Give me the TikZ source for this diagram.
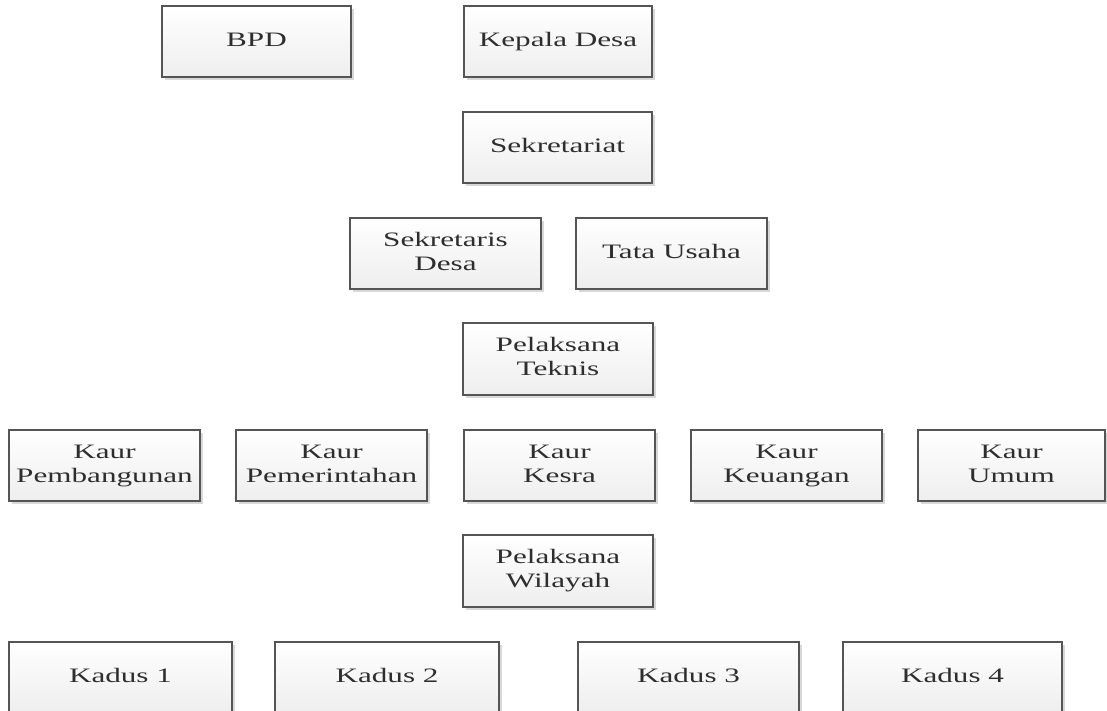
\documentclass[tikz,border=0pt]{standalone}
\usepackage{fontspec}
\newfontfamily\garfont[FakeStretch=1.52]{Liberation Serif}
\usetikzlibrary{shadows}
\definecolor{boxline}{HTML}{555555}
\definecolor{boxtext}{HTML}{2E2E2E}
\definecolor{boxbot}{HTML}{EEEEEE}
\definecolor{shadowc}{HTML}{D8D8D8}
\tikzset{
  orgbox/.style={rectangle, draw=boxline, line width=1.4pt, top color=white, bottom color=boxbot,
    minimum height=71pt, minimum width=190pt, inner sep=0pt, align=center, text=boxtext,
    font=\garfont\fontsize{20.5}{24}\selectfont,
    drop shadow={shadow xshift=3pt, shadow yshift=-3pt, fill=shadowc, opacity=1}}
}
\begin{document}
\begin{tikzpicture}[x=1pt,y=-1pt]
\clip (0,0) rectangle (1107,711);
\useasboundingbox (0,0) rectangle (1107,711);
\fill[white] (0,0) rectangle (1107,711);
\node[orgbox, minimum width=189pt] (bpd) at (256.5,41.5) {BPD\strut};
\node[orgbox, minimum width=188pt] (kades) at (558,41.5) {Kepala Desa\strut};
\node[orgbox, minimum width=189pt] (sekretariat) at (557.5,147.5) {Sekretariat\strut};
\node[orgbox, minimum width=191pt] (sekdes) at (445.5,253.5) {Sekretaris\strut\\Desa\strut};
\node[orgbox, minimum width=191pt] (tu) at (671.5,253.5) {Tata Usaha\strut};
\node[orgbox, minimum height=72pt] (pt) at (558,359) {Pelaksana\strut\\Teknis\strut};
\node[orgbox, minimum width=191pt] (kaur1) at (104.5,465.5) {Kaur\strut\\Pembangunan\strut};
\node[orgbox, minimum width=191pt] (kaur2) at (331.5,465.5) {Kaur\strut\\Pemerintahan\strut};
\node[orgbox, minimum width=191pt] (kaur3) at (559.5,465.5) {Kaur\strut\\Kesra\strut};
\node[orgbox, minimum width=191pt] (kaur4) at (786.5,465.5) {Kaur\strut\\Keuangan\strut};
\node[orgbox, minimum width=187pt] (kaur5) at (1011.5,465.5) {Kaur\strut\\Umum\strut};
\node[orgbox, minimum height=72pt] (pw) at (558,571) {Pelaksana\strut\\Wilayah\strut};
\node[orgbox, minimum width=223pt] (kadus1) at (120.5,677.5) {Kadus 1\strut};
\node[orgbox, minimum width=224pt] (kadus2) at (387,677.5) {Kadus 2\strut};
\node[orgbox, minimum width=221pt] (kadus3) at (688.5,677.5) {Kadus 3\strut};
\node[orgbox, minimum width=219pt] (kadus4) at (952.5,677.5) {Kadus 4\strut};
\end{tikzpicture}
\end{document}
